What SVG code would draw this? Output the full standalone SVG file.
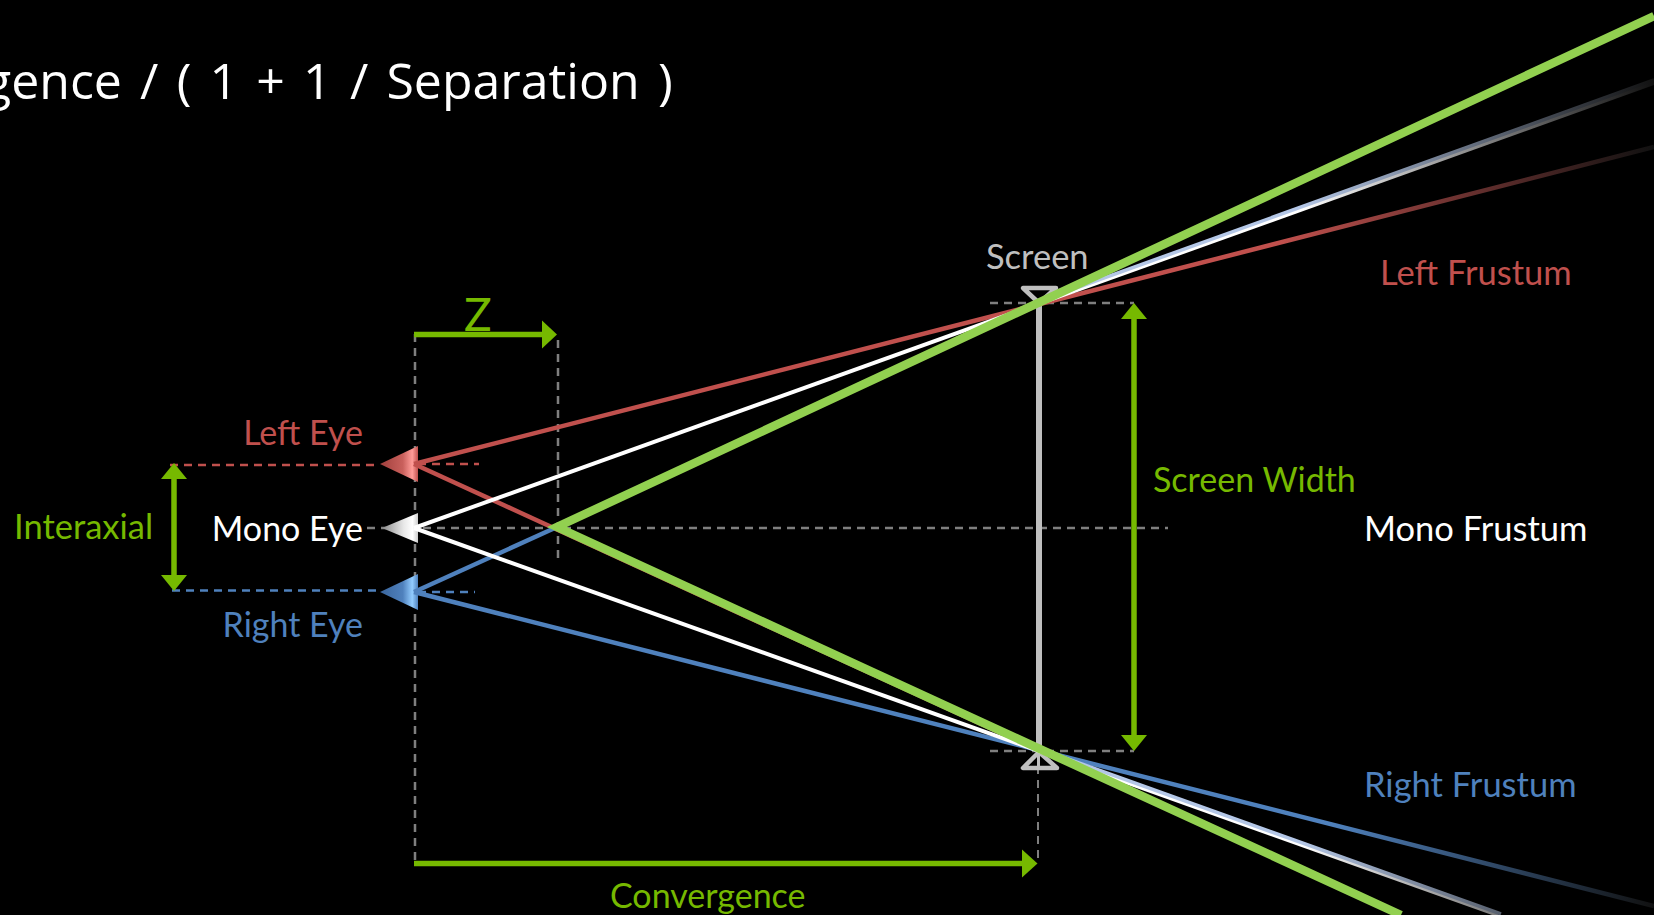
<svg xmlns="http://www.w3.org/2000/svg" width="1654" height="915" viewBox="0 0 1654 915">
<style>
text{font-family:"Lato","Open Sans","Liberation Sans",sans-serif;font-size:34px}
.f{font-size:34.500px}
.r{fill:#c0504d}.b{fill:#4f81bd}.w{fill:#fff}.g{fill:#76b900}.s{fill:#bfbfbf}
.e{text-anchor:end}
.ln{fill:none;stroke-linecap:butt}
.dg{stroke:#7f7f7f;stroke-width:2.500;stroke-dasharray:8 6;fill:none}
.dr{stroke:#c0504d;stroke-width:2.500;stroke-dasharray:8 6;fill:none}
.db{stroke:#4f81bd;stroke-width:2.500;stroke-dasharray:8 6;fill:none}
.arr{stroke:#76b900;stroke-width:5.500;fill:none}
.head{fill:#76b900}
</style>
<defs>
<linearGradient id="fr" gradientUnits="userSpaceOnUse" x1="1280" y1="0" x2="1654" y2="0"><stop offset="0" stop-color="#c0504d"/><stop offset="1" stop-color="#111"/></linearGradient>
<linearGradient id="fb" gradientUnits="userSpaceOnUse" x1="1330" y1="0" x2="1654" y2="0"><stop offset="0" stop-color="#4f81bd"/><stop offset="1" stop-color="#111"/></linearGradient>
<linearGradient id="fw" gradientUnits="userSpaceOnUse" x1="1300" y1="0" x2="1654" y2="0"><stop offset="0" stop-color="#fff"/><stop offset="1" stop-color="#111"/></linearGradient>
<linearGradient id="fl" gradientUnits="userSpaceOnUse" x1="1300" y1="0" x2="1654" y2="0"><stop offset="0" stop-color="#b4c7e7"/><stop offset="1" stop-color="#111"/></linearGradient>
<linearGradient id="er"><stop offset="0" stop-color="#a03f3c"/><stop offset=".6" stop-color="#c9605c"/><stop offset=".85" stop-color="#ff9c98"/><stop offset="1" stop-color="#c0504d"/></linearGradient>
<linearGradient id="em"><stop offset="0" stop-color="#8a8a8a"/><stop offset=".6" stop-color="#e8e8e8"/><stop offset=".85" stop-color="#fff"/><stop offset="1" stop-color="#ccc"/></linearGradient>
<linearGradient id="eb"><stop offset="0" stop-color="#3a659c"/><stop offset=".6" stop-color="#4f81bd"/><stop offset=".85" stop-color="#92ccff"/><stop offset="1" stop-color="#4f81bd"/></linearGradient>
</defs>
<rect width="1654" height="915" fill="#000"/>
<g id="title"><text x="-16" y="99" class="w" style="font-family:'Open Sans','Noto Sans',sans-serif;font-size:50px;word-spacing:5.200px">gence / ( 1 + 1 / Separation )</text></g>
<g id="guides">
<path class="dg" d="M415 334V864M558 340V558M367 528H1168M990 303H1134M990 751H1134"/>
<path class="dg" style="stroke-width:2" d="M1038 752V864"/>
<path class="dr" d="M170 465H380M418 464H479"/>
<path class="db" d="M172 590.500H380M418 592H475"/>
</g>
<g id="screen">
<rect x="1036" y="303" width="6" height="447" fill="#bfbfbf"/>
<path d="M1023 288H1056L1039 303Z" fill="#000" stroke="#bfbfbf" stroke-width="4.500" stroke-linejoin="round"/>
<path d="M1023 768H1057L1039 752Z" fill="#000" stroke="#bfbfbf" stroke-width="4.500" stroke-linejoin="round"/>
<rect x="1037" y="752" width="3" height="16" fill="#bfbfbf"/>
</g>
<g id="left-eye"><path d="M380 464L418 446V482Z" fill="url(#er)"/><text x="363" y="445" class="r e">Left Eye</text></g>
<g id="mono-eye"><path d="M382 528L418 513V543Z" fill="url(#em)"/><text x="363" y="541" class="w e">Mono Eye</text></g>
<g id="right-eye"><path d="M380 592L418 574V610Z" fill="url(#eb)"/><text x="363" y="637" class="b e">Right Eye</text></g>
<g id="connectors">
<path class="ln" stroke="url(#fr)" stroke-width="4.500" d="M414 464L1654 147"/>
<path class="ln" stroke="#c0504d" stroke-width="4.500" d="M414 464L1038 750"/>
<path class="ln" stroke="url(#fb)" stroke-width="4.500" d="M414 592L1654 906"/>
<path class="ln" stroke="#4f81bd" stroke-width="4.500" d="M414 592L557 527"/>
<path class="ln" stroke="url(#fw)" stroke-width="4" d="M414 528L1654 83"/>
<path class="ln" stroke="url(#fl)" stroke-width="3.500" d="M1040 301L1654 80"/>
<path class="ln" stroke="url(#fw)" stroke-width="4" d="M414 528L1498 915"/>
<path class="ln" stroke="url(#fl)" stroke-width="3.500" d="M1040 749L1501 914"/>
<path class="ln" stroke="#92d050" stroke-width="8.500" stroke-linejoin="miter" d="M1654 16L557 527L1401 915"/>
<path class="arr" d="M414 334.500H544"/><path class="head" d="M557 334.500L542 320.500V348.500Z"/>
<path class="arr" d="M414 863.500H1024"/><path class="head" d="M1037.500 863.500L1022 849.500V877.500Z"/>
<path class="arr" d="M174 477V577"/><path class="head" d="M174 463L161 479H187Z"/><path class="head" d="M174 591L161 575H187Z"/>
<path class="arr" d="M1134 317V737"/><path class="head" d="M1134 303L1121 319H1147Z"/><path class="head" d="M1134 751L1121 735H1147Z"/>
</g>
<g id="labels">
<text x="14" y="539" class="g f">Interaxial</text>
<text x="464" y="331" class="g" style="font-size:46px">Z</text>
<text x="986" y="269" class="s f">Screen</text>
<text x="1153" y="492" class="g">Screen Width</text>
<text x="1364" y="541" class="w f">Mono Frustum</text>
<text x="1380" y="285" class="r f">Left Frustum</text>
<text x="1364" y="797" class="b f">Right Frustum</text>
<text x="610" y="908" class="g">Convergence</text>
</g>
</svg>
